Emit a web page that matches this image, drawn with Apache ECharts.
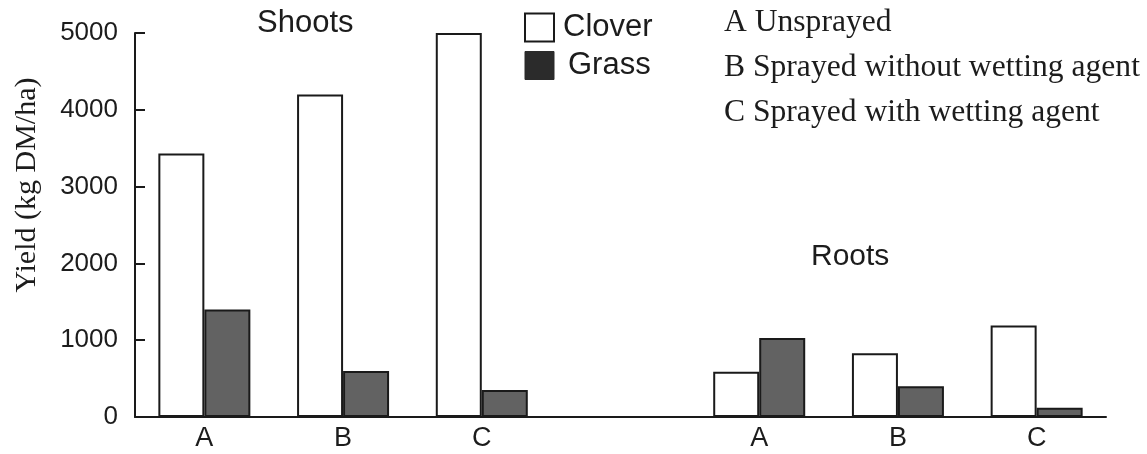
<!DOCTYPE html>
<html>
<head>
<meta charset="utf-8">
<script src="https://cdn.jsdelivr.net/npm/echarts@6/dist/echarts.min.js"></script>
<style>
html,body{margin:0;padding:0;background:#fff;}
#chart{width:1147px;height:454px;}
</style>
</head>
<body>
<div id="chart"></div>
<script>
// Categories: treatments for Shoots (left) and Roots (right), blank slot as separator
var categories = ['A', 'B', 'C', '', 'A', 'B', 'C'];
// Yield (kg DM/ha)
var clover = [3430, 4200, 5000, null, 590, 830, 1190];
var grass  = [1400, 600, 350, null, 1030, 400, 120];
var yTicks = [0, 1000, 2000, 3000, 4000, 5000];
var treatmentNotes = ['A Unsprayed', 'B Sprayed without wetting agent', 'C Sprayed with wetting agent'];
var groupTitles = ['Shoots', 'Roots'];

var SANS = '"Liberation Sans", Arial, Helvetica, sans-serif';
var SERIF = '"Liberation Serif", "Times New Roman", serif';
var INK = '#1c1c1c';

var chart = echarts.init(document.getElementById('chart'), null, {renderer: 'canvas'});

var graphics = [
  {type: 'text', left: 257, top: 8, style: {text: groupTitles[0], font: '31px ' + SANS, fill: INK}},
  {type: 'text', left: 811, top: 242, style: {text: groupTitles[1], font: '30px ' + SANS, fill: INK}}
];
treatmentNotes.forEach(function (t, i) {
  graphics.push({type: 'text', left: 724, top: 7 + i * 45, style: {text: t, font: '31.6px ' + SERIF, fill: INK}});
});

chart.setOption({
  animation: false,
  backgroundColor: '#ffffff',
  grid: {left: 135, right: 41, top: 33, bottom: 37, containLabel: false},
  legend: {
    orient: 'vertical',
    left: 519,
    top: 7,
    itemWidth: 29,
    itemHeight: 28,
    itemGap: 7,
    icon: 'rect',
    textStyle: {fontFamily: SANS, fontSize: 31, color: INK, padding: [0, 0, 0, 4]},
    data: [
      {name: 'Clover', itemStyle: {color: '#ffffff', borderColor: '#1a1a1a', borderWidth: 2}},
      {name: 'Grass', itemStyle: {color: '#2b2b2b', borderColor: '#2b2b2b', borderWidth: 1}, textStyle: {padding: [0, 0, 8, 9]}}
    ]
  },
  xAxis: {
    type: 'category',
    data: categories,
    boundaryGap: true,
    axisLine: {lineStyle: {color: '#1a1a1a', width: 2}},
    axisTick: {show: false},
    axisLabel: {fontFamily: SANS, fontSize: 27, color: INK, margin: 8, interval: 0}
  },
  yAxis: {
    type: 'value',
    min: yTicks[0],
    max: yTicks[yTicks.length - 1],
    interval: 1000,
    name: 'Yield (kg DM/ha)',
    nameLocation: 'middle',
    nameGap: 93,
    nameTextStyle: {fontFamily: SERIF, fontSize: 30, color: INK, padding: [0, 0, 0, 80]},
    axisLine: {show: true, lineStyle: {color: '#1a1a1a', width: 2}},
    axisTick: {show: true, inside: true, length: 10, lineStyle: {color: '#1a1a1a', width: 2}},
    axisLabel: {fontFamily: SANS, fontSize: 26, color: INK, margin: 17, formatter: function (v) { return String(v); }},
    splitLine: {show: false}
  },
  series: [
    {
      name: 'Clover',
      type: 'bar',
      data: clover,
      barWidth: 46,
      barGap: '0%',
      itemStyle: {color: '#ffffff', borderColor: '#1a1a1a', borderWidth: 2}
    },
    {
      name: 'Grass',
      type: 'bar',
      data: grass,
      barWidth: 46,
      barGap: '0%',
      itemStyle: {color: '#626262', borderColor: '#1a1a1a', borderWidth: 2}
    }
  ],
  graphic: graphics
});
</script>
</body>
</html>
